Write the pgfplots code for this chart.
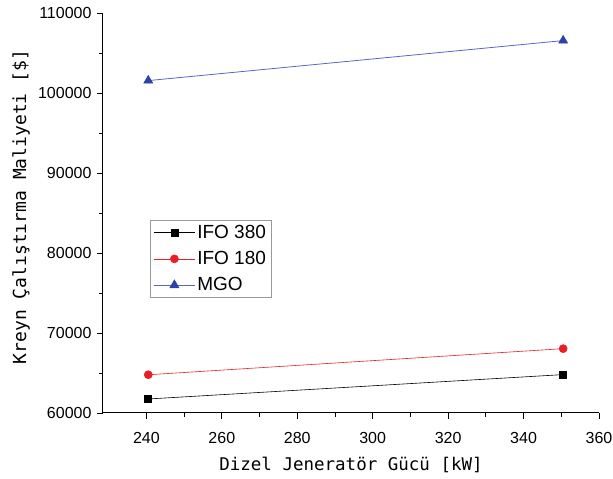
\documentclass[border=0pt]{standalone}
\usepackage{fontspec}
\setmainfont{Liberation Sans}
\newfontfamily\monof{DejaVu Sans Mono}
\usepackage{pgfplots}
\pgfplotsset{compat=1.18}
\definecolor{cred}{RGB}{235,30,35}
\definecolor{cblue}{RGB}{45,65,170}
\definecolor{cblueline}{RGB}{90,100,200}
\begin{document}
\begin{tikzpicture}
\begin{axis}[
  name=ax,
  scale only axis,
  width=496pt, height=400pt,
  xmin=228.5, xmax=360, ymin=60000, ymax=110000,
  axis lines*=left,
  axis line style={line width=1pt},
  xtick={240,260,...,360},
  ytick={60000,70000,...,110000},
  scaled ticks=false,
  minor x tick num=1, minor y tick num=1,
  tick align=outside,
  major tick length=6pt, minor tick length=4pt,
  tick style={line width=0.9pt, black},
  /pgf/number format/assume math mode=true,
  /pgf/number format/.cd, use comma=false, 1000 sep={}, fixed, precision=0,
  /pgfplots/.cd,
  ticklabel style={font=\fontsize{16}{18}\selectfont},
  xticklabel style={anchor=center, yshift=-19pt},
  yticklabel style={anchor=east, xshift=-2pt},
  xlabel={\monof\fontsize{17.5}{19}\selectfont Dizel Jeneratör Gücü [kW]},
  ylabel={\monof\fontsize{18}{20}\selectfont Kreyn Çalıştırma Maliyeti [\$]},
  xlabel style={at={(axis description cs:0.5,-0.13)}, anchor=center},
  ylabel style={at={(axis description cs:-0.1653,0.515)}, anchor=center},
  legend style={at={(0.095,0.483)}, anchor=north west, draw=gray!80, line width=0.8pt,
    font=\fontsize{19}{22}\selectfont, row sep=7.5pt, inner xsep=3pt, inner ysep=3pt},
  legend image code/.code={%
    \draw[#1, mark repeat=2, mark phase=2] plot coordinates {(0cm,0cm) (0.72cm,0cm) (1.44cm,0cm)};},
  legend cell align=left,
]
\addplot[black, line width=0.6pt, mark=square*, mark size=3.5pt, mark options={fill=black}]
  coordinates {(240.5,61750) (350.5,64800)};
\addlegendentry{IFO 380\hspace{5pt}}
\addplot[cred, line width=0.6pt, mark=*, mark size=4pt, mark options={fill=cred, draw=cred}]
  coordinates {(240.5,64780) (350.5,68040)};
\addlegendentry{IFO 180}
\addplot[cblueline, line width=0.8pt, mark=triangle*, mark size=5pt, mark options={fill=cblue, draw=cblue}]
  coordinates {(240.5,101550) (350.5,106550)};
\addlegendentry{MGO}
\end{axis}
\pgfresetboundingbox
\path[use as bounding box] ([shift={(-103pt,-66pt)}]ax.south west) rectangle ([shift={(14pt,13pt)}]ax.north east);
\end{tikzpicture}
\end{document}
